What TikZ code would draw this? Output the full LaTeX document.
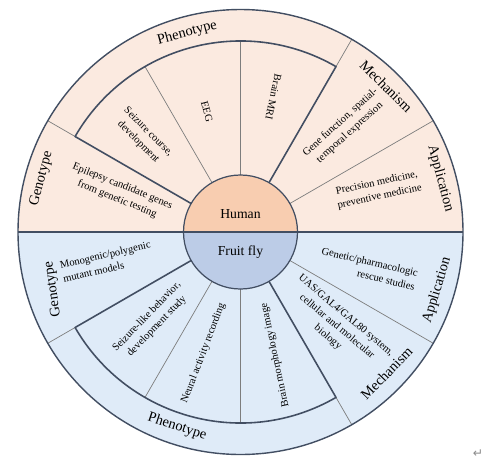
\documentclass[tikz,border=0pt]{standalone}
\usepackage{fontspec}
\setmainfont{Liberation Serif}
\newfontfamily\symfont{DejaVu Sans}
\usetikzlibrary{calc}
\definecolor{humanband}{RGB}{251,234,224}
\definecolor{humancore}{RGB}{248,205,176}
\definecolor{flyband}{RGB}{223,235,248}
\definecolor{flycore}{RGB}{188,204,231}
\definecolor{ringline}{RGB}{66,78,98}
\definecolor{splitline}{RGB}{125,125,125}
\tikzset{
  bandlabel/.style={font=\fontsize{8.2}{9}\selectfont,inner sep=0pt},
  celltext/.style={font=\fontsize{6}{8}\selectfont,align=center,inner sep=0pt},
  corelabel/.style={font=\fontsize{7.8}{9}\selectfont,inner sep=0pt},
  thinsplit/.style={draw=splitline,line width=0.4pt},
  thicksplit/.style={draw=ringline,line width=0.9pt,line join=round}
}

\begin{document}
\begin{tikzpicture}[x=0.02cm,y=0.02cm]
  \useasboundingbox (-240.5,-235) rectangle (248.5,232);
  % two halves
  \fill[humanband] (0:222.5) arc[start angle=0,end angle=180,radius=222.5] -- cycle;
  \fill[flyband] (180:222.5) arc[start angle=180,end angle=360,radius=222.5] -- cycle;

  % sector borders
  \foreach \a in {30,330}
    \draw[thinsplit] (\a:57) -- (\a:222.5);
  \foreach \a in {60,150,210,300}
    \draw[thinsplit] (\a:191) -- (\a:222.5);
  \foreach \a in {90,120,240,270}
    \draw[thinsplit] (\a:57) -- (\a:191);
  \draw[thicksplit] (60:57) -- (60:191) arc[start angle=60,end angle=150,radius=191] -- (150:57);
  \draw[thicksplit] (210:57) -- (210:191) arc[start angle=210,end angle=300,radius=191] -- (300:57);
  \draw[ringline,line width=0.6pt] (180:222.5) -- (0:222.5);
  \draw[ringline,line width=0.8pt] (0,0) circle[radius=222.5];

  % core
  \fill[humancore] (0:57) arc[start angle=0,end angle=180,radius=57] -- cycle;
  \fill[flycore] (180:57) arc[start angle=180,end angle=360,radius=57] -- cycle;
  \draw[ringline,line width=0.6pt] (180:57) -- (0:57);
  \draw[ringline,line width=0.7pt] (0,0) circle[radius=57];
  \node[corelabel] (human) at (0,18) {Human};
  \node[corelabel] (fly) at (0,-20) {Fruit fly};

  % outer band labels
  \foreach \ang/\rad/\rot/\lab/\nm in {
      165/206/75/Genotype/hGeno, 105/206/15/Phenotype/hPheno,
      45/206/-45/Mechanism/hMech, 15/207/-75/Application/hAppl,
      197/196/98/Genotype/fGeno, 252/205/-18/Phenotype/fPheno,
      -44/203/46/Mechanism/fMech, -16.5/205/73/Application/fAppl}
    \node[bandlabel,rotate=\rot] (\nm) at (\ang:\rad) {\lab};

  % cells, human side
  \node[celltext,rotate=-22] (hGenes) at (162:127) {Epilepsy candidate genes\\from genetic testing};
  \node[celltext,rotate=-45] (hCourse) at (135.7:136) {Seizure course,\\development};
  \node[celltext,rotate=-75] (hEEG) at (105.6:125) {EEG};
  \node[celltext,rotate=-102] (hMRI) at (76.3:139) {Brain MRI};
  \node[celltext,rotate=42] (hGene) at (45:148) {Gene function, spatial-\\temporal expression};
  \node[celltext,rotate=12] (hMed) at (17:144) {Precision medicine,\\preventive medicine};

  % cells, fly side
  \node[celltext,align=left,rotate=13] (fModels) at (192.5:137) {Monogenic/polygenic\\mutant models};
  \node[celltext,rotate=46] (fBehav) at (225.3:126) {Seizure-like behavior,\\development study};
  \node[celltext,rotate=69] (fNeural) at (253:127) {Neural activity recording};
  \node[celltext,rotate=102] (fMorph) at (285.7:128) {Brain morphology image};
  \node[celltext,rotate=-40] (fUAS) at (-44.5:135) {UAS/GAL4/GAL80 system,\\cellular and molecular\\biology};
  \node[celltext,align=right,rotate=-13] (fRescue) at (-16:133) {Genetic/pharmacologic\\rescue studies};

  \node[font=\symfont\fontsize{7}{8}\selectfont,text=black!45,inner sep=0pt] (mark) at (237.5,-222) {↵};
\end{tikzpicture}
\end{document}
